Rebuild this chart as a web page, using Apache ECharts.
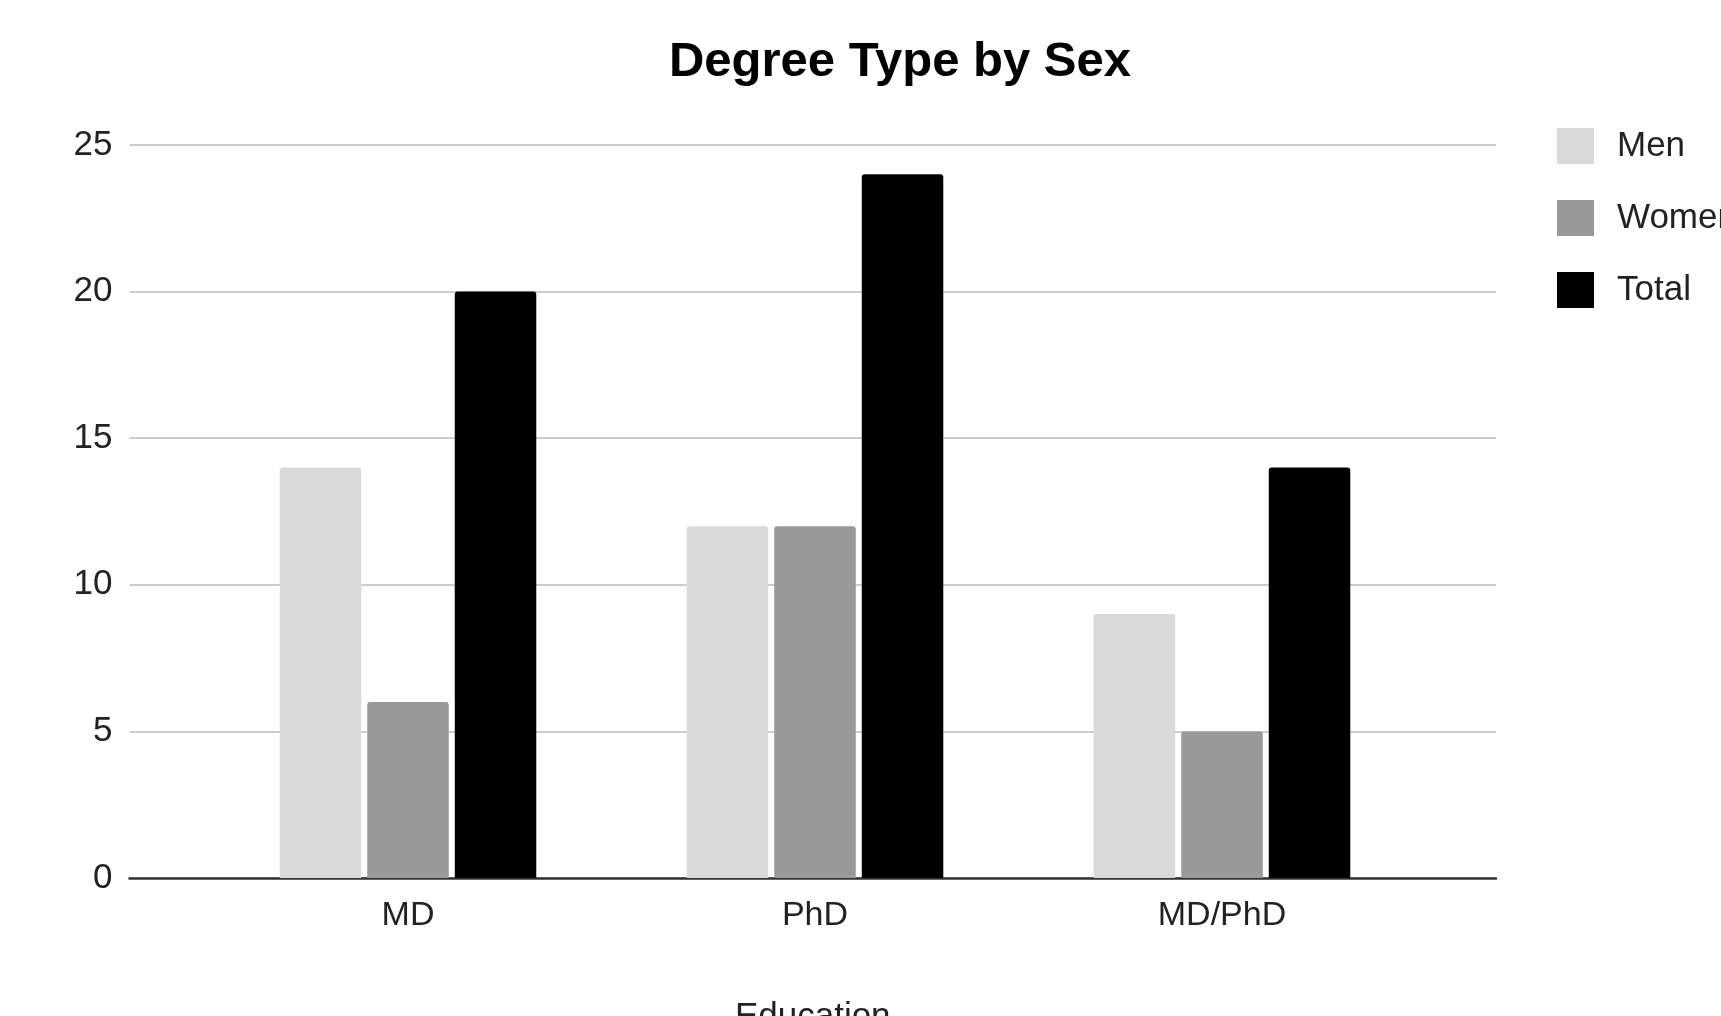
<!DOCTYPE html>
<html><head><meta charset="utf-8">
<script src="https://cdn.jsdelivr.net/npm/echarts@6/dist/echarts.min.js"></script>
<style>html,body{margin:0;padding:0;background:#fff}#c{width:1721px;height:1016px}</style>
</head><body><div id="c"></div>
<script>
const categories = ['MD', 'PhD', 'MD/PhD'];
const men = [14, 12, 9];
const women = [6, 12, 5];
const total = [20, 24, 14];
const yTicks = [0, 5, 10, 15, 20, 25];

const FONT = '"Liberation Sans", Arial, sans-serif';
const chart = echarts.init(document.getElementById('c'), null, {renderer: 'canvas'});
chart.setOption({
  backgroundColor: '#ffffff',
  animation: false,
  title: {
    text: 'Degree Type by Sex',
    left: 900, top: 38, textAlign: 'center', padding: 0,
    textStyle: {fontFamily: FONT, fontWeight: 'bold', fontSize: 49, color: '#000'}
  },
  legend: {
    orient: 'vertical', left: 1557, top: 128, padding: 0,
    itemWidth: 37, itemHeight: 36, itemGap: 36,
    icon: 'rect',
    itemStyle: {borderRadius: 3},
    textStyle: {fontFamily: FONT, fontSize: 35, color: '#222', padding: [4, 0, 0, 18]},
    data: ['Men', 'Women', 'Total']
  },
  grid: [
    {left: 129.5, right: 225, top: 145, bottom: 138, outerBoundsMode: 'none', containLabel: false},
    {left: 204.5, width: 1221, top: 145, bottom: 138, outerBoundsMode: 'none', containLabel: false}
  ],
  xAxis: [
    {gridIndex: 0, type: 'value', min: 0, max: 1,
     axisLine: {show: true, onZero: false, lineStyle: {color: '#333', width: 2.5}},
     axisTick: {show: false}, axisLabel: {show: false}, splitLine: {show: false},
     name: 'Education', nameLocation: 'middle', nameGap: 122,
     nameTextStyle: {fontFamily: FONT, fontSize: 35, color: '#222', verticalAlign: 'top'}},
    {gridIndex: 1, type: 'category', data: categories,
     axisLine: {show: false}, axisTick: {show: false},
     axisLabel: {fontFamily: FONT, fontSize: 34, color: '#222', margin: 21}}
  ],
  yAxis: [
    {gridIndex: 0, type: 'value', min: 0, max: 25, interval: 5,
     axisLine: {show: false}, axisTick: {show: false},
     axisLabel: {fontFamily: FONT, fontSize: 35, color: '#222', margin: 17,
       formatter: v => yTicks.includes(v) ? String(v) : ''},
     splitLine: {show: true, lineStyle: {color: '#cccccc', width: 2}}},
    {gridIndex: 1, type: 'value', min: 0, max: 25, interval: 5, show: false, splitLine: {show: false}}
  ],
  series: [
    {name: 'Men', type: 'bar', xAxisIndex: 1, yAxisIndex: 1, data: men,
     barWidth: 81.5, barGap: '7.4%', itemStyle: {color: '#d9d9d9', borderRadius: [3, 3, 0, 0]}},
    {name: 'Women', type: 'bar', xAxisIndex: 1, yAxisIndex: 1, data: women,
     barWidth: 81.5, barGap: '7.4%', itemStyle: {color: '#999999', borderRadius: [3, 3, 0, 0]}},
    {name: 'Total', type: 'bar', xAxisIndex: 1, yAxisIndex: 1, data: total,
     barWidth: 81.5, barGap: '7.4%', itemStyle: {color: '#000000', borderRadius: [3, 3, 0, 0]}}
  ]
});
</script></body></html>
